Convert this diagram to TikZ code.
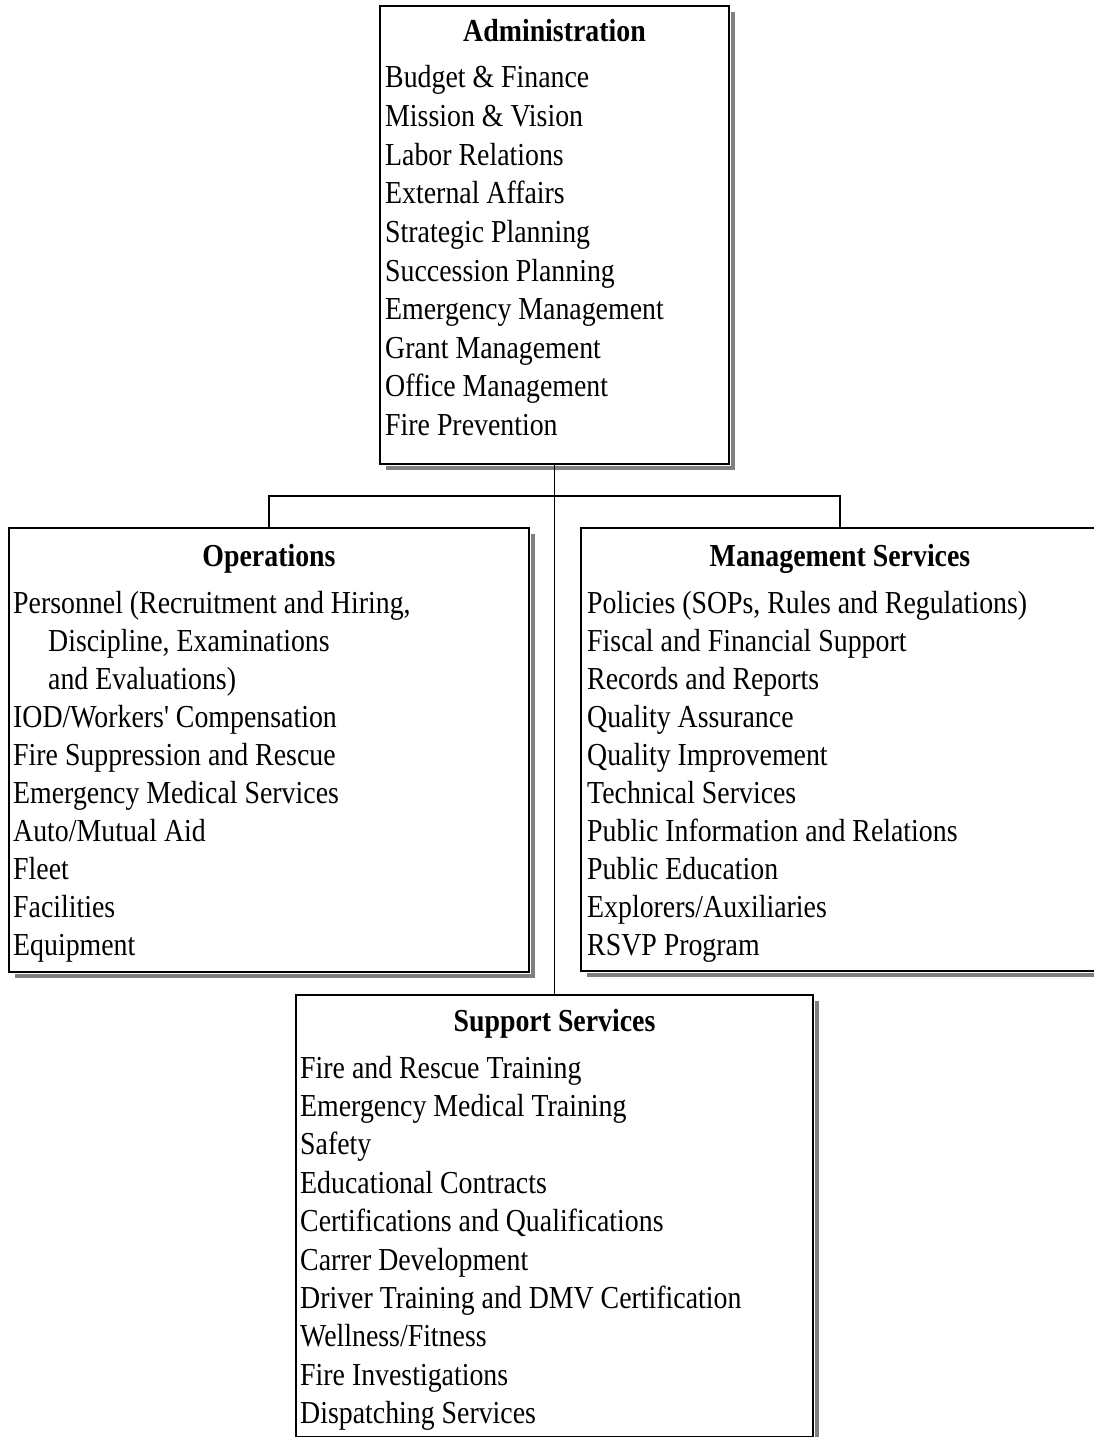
\documentclass[tikz,border=0pt]{standalone}
\usepackage{fontspec}
\setmainfont{Liberation Serif}
\newfontfamily\orgfont{Liberation Serif}[FakeStretch=0.87]
\usetikzlibrary{shadows}

\tikzset{
  orgbox/.style={rectangle, anchor=north west, inner sep=0pt, outer sep=0pt,
    fill=white, draw=black, line width=2pt,
    drop shadow={shadow xshift=6pt, shadow yshift=-6pt, opacity=1, fill=black!50},
    preaction={draw=white, line width=4pt}},
  boxtitle/.style={anchor=base, inner sep=0pt, font=\orgfont\bfseries\fontsize{32}{38}\selectfont},
  boxitem/.style={anchor=base west, inner sep=0pt, font=\orgfont\fontsize{32}{38}\selectfont},
  link/.style={draw=black, line width=1.8pt}
}

\begin{document}
\begin{tikzpicture}[x=1pt, y=-1pt]
\useasboundingbox (0,0) rectangle (1093,1437);

\coordinate (hub) at (554.5,496);

% boxes
\node[orgbox, minimum width=349pt, minimum height=458pt] (admin) at (380,6) {};
\node[orgbox, minimum width=520pt, minimum height=444pt] (ops)   at (9,528) {};
\node[orgbox, minimum width=518pt, minimum height=443pt] (mgmt)  at (581,528) {};
\node[orgbox, minimum width=517pt, minimum height=442pt] (supp)  at (296,995) {};

% connectors
\draw[link] (admin.south) -- (supp.north);
\draw[link] (ops.north) |- (hub) -| (mgmt.north);

% Administration
\node[boxtitle] (admin-title) at (admin.north |- 0,42) {Administration};
\foreach \t [count=\i] in {Budget \& Finance, Mission \& Vision, Labor Relations,
    External Affairs, Strategic Planning, Succession Planning,
    Emergency Management, Grant Management, Office Management, Fire Prevention}
  \node[boxitem] (admin-\i) at (385, {88+38.6*(\i-1)}) {\t};

% Operations
\node[boxtitle] (ops-title) at (ops.north |- 0,566) {Operations};
\foreach \x/\t [count=\i] in {13/{Personnel (Recruitment and Hiring,},
    48/{Discipline, Examinations}, 48/{and Evaluations)},
    13/{IOD/Workers' Compensation}, 13/{Fire Suppression and Rescue},
    13/{Emergency Medical Services}, 13/{Auto/Mutual Aid}, 13/{Fleet},
    13/{Facilities}, 13/{Equipment}}
  \node[boxitem] (ops-\i) at (\x, {613+38.1*(\i-1)}) {\t};

% Management Services
\node[boxtitle] (mgmt-title) at (mgmt.north |- 0,566) {Management Services};
\foreach \t [count=\i] in {{Policies (SOPs, Rules and Regulations)},
    Fiscal and Financial Support, Records and Reports, Quality Assurance,
    Quality Improvement, Technical Services, Public Information and Relations,
    Public Education, Explorers/Auxiliaries, RSVP Program}
  \node[boxitem] (mgmt-\i) at (587, {613+38.1*(\i-1)}) {\t};

% Support Services
\node[boxtitle] (supp-title) at (supp.north |- 0,1031) {Support Services};
\foreach \t [count=\i] in {Fire and Rescue Training, Emergency Medical Training,
    Safety, Educational Contracts, Certifications and Qualifications,
    Carrer Development, Driver Training and DMV Certification,
    Wellness/Fitness, Fire Investigations, Dispatching Services}
  \node[boxitem] (supp-\i) at (300, {1078+38.4*(\i-1)}) {\t};
\end{tikzpicture}
\end{document}
